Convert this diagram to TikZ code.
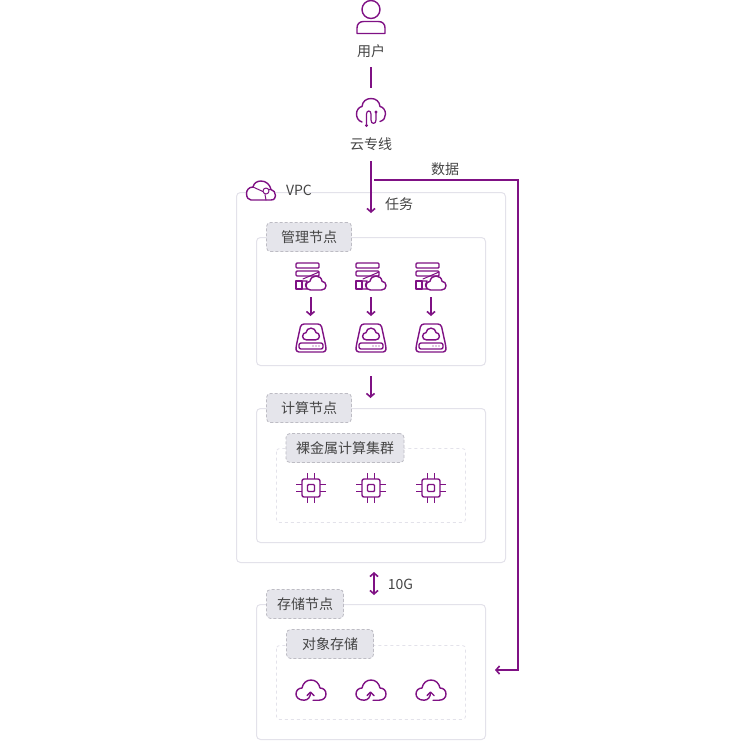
\documentclass[tikz,border=0pt]{standalone}
\usepackage{fontspec}
\setmainfont{Noto Sans CJK SC}
\usetikzlibrary{arrows.meta}
\definecolor{pur}{HTML}{7F1184}
\definecolor{txt}{HTML}{444444}
\definecolor{bord}{HTML}{E3E2EA}
\definecolor{tagf}{HTML}{E5E5EB}
\definecolor{tagb}{HTML}{BDBCC4}
\tikzset{
  panel/.style={draw=bord,line width=1pt,rounded corners=4pt,fill=white},
  inner panel/.style={draw=bord,line width=.8pt,dash pattern=on 3pt off 3pt,rounded corners=3pt},
  tag/.style={draw=tagb,fill=tagf,line width=.8pt,dash pattern=on 3pt off 2pt,rounded corners=4pt},
  lbl/.style={text=txt,font=\fontsize{14pt}{16pt}\selectfont,inner sep=0pt,anchor=center},
  conn/.style={draw=pur,line width=2pt},
  arrowed/.style={conn,-{Straight Barb[length=3.5pt,width=8pt,line width=1.6pt]}},
  ico/.style={draw=pur,line width=1.4pt,line join=round,line cap=round},
  pics/icon cloud/.style={code={
    \path[ico,fill=white] (-6,10.5) -- (8,10.5)
      .. controls (12.5,10.5) and (15,7.5) .. (15,4)
      .. controls (15,0.5) and (12.5,-2.5) .. (9,-2.5)
      .. controls (8.5,-7.5) and (4.5,-10.5) .. (0,-10.5)
      .. controls (-4.5,-10.5) and (-8,-7.5) .. (-9,-2.5)
      .. controls (-12.5,-2.5) and (-15,0.5) .. (-15,4)
      .. controls (-15,7.5) and (-12.5,10.5) .. (-8,10.5) -- cycle;
  }},
  pics/server/.style={code={
    \draw[ico,rounded corners=1pt] (-15,-15) rectangle (8,-10);
    \draw[ico,rounded corners=1pt] (-15,-7) -- (8,-7) -- (8,-2) -- (-15,-2) -- cycle;
    \draw[ico] (-15,3) rectangle (-9,11);
    \draw[ico] (-9,3) -- (-4,3) .. controls (-6,5.5) and (-6,8.5) .. (-4,11) -- (-9,11);
    \draw[ico,line width=1pt] (-8,1) -- (8,-6);
    \begin{scope}[shift={(5,5)},scale=.67]
      \path pic[transform shape] {icon cloud};
    \end{scope}
  }},
  pics/disk/.style={code={
    \draw[ico,rounded corners=3pt] (-10,-14) -- (10,-14) -- (15,9) -- (15,14) -- (-15,14) -- (-15,9) -- cycle;
    \draw[ico,rounded corners=2pt] (-12,5) rectangle (12,11);
    \fill[pur] (2,8) circle (.7) (5,8) circle (.7) (8,8) circle (.7);
    \begin{scope}[shift={(0,-4)},scale=.56]
      \path pic[transform shape] {icon cloud};
    \end{scope}
  }},
  pics/chip/.style={code={
    \draw[ico,rounded corners=2pt] (-9,-9) rectangle (9,9);
    \draw[ico,rounded corners=1pt] (-3.5,-3.5) rectangle (3.5,3.5);
    \foreach \d in {-3.5,3.5}{
      \draw[ico,line cap=butt,line width=1.1pt] (\d,-15) -- (\d,-9) (\d,9) -- (\d,15) (-15,\d) -- (-9,\d) (9,\d) -- (15,\d);
    }
  }},
  pics/upcloud/.style={code={
    \draw[ico] (-.5,2.5) .. controls (-.5,7) and (-3,10.2) .. (-7,10.2)
      .. controls (-12.5,10.2) and (-15,7) .. (-15,4)
      .. controls (-15,0.5) and (-12.5,-2) .. (-9,-2)
      .. controls (-8,-7) and (-4.5,-10) .. (0,-10)
      .. controls (4.5,-10) and (8,-7) .. (9,-2)
      .. controls (12.5,-2) and (15,0.5) .. (15,4)
      .. controls (15,7.5) and (12.5,10.2) .. (8,10.2) -- (2,10.2);
    \draw[ico] (-4,5.5) -- (-.5,2) -- (3,5.5);
  }},
}
\begin{document}
\begin{tikzpicture}[x=1pt,y=-1pt]
\useasboundingbox (0,0) rectangle (754,740);

% panels
\draw[panel] (236.5,192.5) rectangle (505.5,562.5);
\draw[panel] (256.5,237.5) rectangle (485.5,365.5);
\draw[panel] (256.5,408.5) rectangle (485.5,542.5);
\draw[inner panel] (276.5,448.5) rectangle (465.5,522.5);
\draw[panel] (256.5,604.5) rectangle (485.5,739.5);
\draw[inner panel] (276.5,645.5) rectangle (465.5,719.5);

% tags
\node[tag,lbl,minimum width=85pt,minimum height=29pt] (t1) at (309,237) {管理节点};
\node[tag,lbl,minimum width=85pt,minimum height=29pt] (t2) at (309,408) {计算节点};
\node[tag,lbl,minimum width=118pt,minimum height=29pt] (t3) at (345,448) {裸金属计算集群};
\node[tag,lbl,minimum width=77pt,minimum height=29pt] (t4) at (305,604) {存储节点};
\node[tag,lbl,minimum width=87pt,minimum height=29pt] (t5) at (330,644) {对象存储};

% user icon
\draw[ico] (371,9.5) circle (9);
\draw[ico] (357,33.5) -- (385,33.5) -- (385,28) .. controls (385,24) and (382.5,21.5) .. (378.5,21.5)
  -- (363.5,21.5) .. controls (359.5,21.5) and (357,24) .. (357,28) -- cycle;
\node[lbl] (user) at (371,51) {用户};

% direct-connect icon
\draw[ico] (362,122) .. controls (358,121) and (356.5,117) .. (356.5,114)
  .. controls (356.5,110) and (359,107) .. (362,106.5)
  .. controls (362.5,101.5) and (366,98.5) .. (371,98.5)
  .. controls (376,98.5) and (379.5,101.5) .. (380,106.5)
  .. controls (383,107) and (385.5,110) .. (385.5,114)
  .. controls (385.5,117) and (384,120.5) .. (380,121.5);
\draw[ico,line width=1.2pt] (366.5,125) -- (366.5,114) .. controls (366.5,110) and (371,110) .. (371,114)
  -- (371,120) .. controls (371,124.5) and (376,124.5) .. (376,120) -- (376,112);
\fill[pur] (366.5,125.5) circle (1.7) (376,112) circle (1.7);
\node[lbl] (dc) at (371,144.5) {云专线};

% VPC icon
\begin{scope}[shift={(261,191)}]
  \draw[ico,fill=white] (-10,9) -- (10,9) .. controls (13.5,9) and (14.5,6.5) .. (14.5,4.5)
    .. controls (14.5,1.5) and (12.5,-1) .. (10,-1.5)
    .. controls (9,-6.5) and (5,-10) .. (0,-10)
    .. controls (-4,-10) and (-7,-8) .. (-8,-4)
    .. controls (-12,-4) and (-14.5,-1) .. (-14.5,2.5)
    .. controls (-14.5,6.5) and (-12.5,9) .. (-10,9) -- cycle;
  \draw[ico,line width=1pt] (-8,-4) -- (3,1) (7,-1.5) -- (10,-1.5) (4,3.5) -- (5,9);
  \draw[ico,line width=1pt,fill=white] (5,0) circle (3);
\end{scope}
\node[lbl] (vpc) at (299,190) {VPC};

% server icons, disks, chips, clouds
\foreach \n/\x in {a/311,b/371,c/431}{
  \path (\x,278) pic {server};
  \path (\x,338) pic {disk};
  \path (\x,488) pic {chip};
  \path (\x,690) pic {upcloud};
}

% connectors
\coordinate (uTop) at (371,67);
\coordinate (dcTop) at (371,88);
\draw[conn] (uTop) -- (dcTop);
\coordinate (taskS) at (371,161);
\coordinate (taskE) at (371,213);
\draw[arrowed] (taskS) -- (taskE);
\coordinate (dataS) at (374,180);
\coordinate (dataC) at (518,180);
\coordinate (dataD) at (518,670);
\coordinate (dataE) at (495,670);
\draw[arrowed] (dataS) -- (dataC) -- (dataD) -- (dataE);
\foreach \n/\x in {a/310.5,b/371,c/431}{
  \coordinate (p\n) at (\x,297);
  \coordinate (q\n) at (\x,316);
  \draw[arrowed] (p\n) -- (q\n);
}
\coordinate (m1) at (370.5,376);
\coordinate (m2) at (370.5,398);
\draw[arrowed] (m1) -- (m2);
\coordinate (s1) at (374,572);
\coordinate (s2) at (374,595);
\draw[conn,{Straight Barb[length=3.5pt,width=8pt,line width=1.6pt]}-{Straight Barb[length=3.5pt,width=8pt,line width=1.6pt]}] (s1) -- (s2);

% labels
\node[lbl] (ldata) at (445,169) {数据};
\node[lbl] (ltask) at (399,204) {任务};
\node[lbl] (l10g) at (400.5,584) {10G};
\end{tikzpicture}
\end{document}
